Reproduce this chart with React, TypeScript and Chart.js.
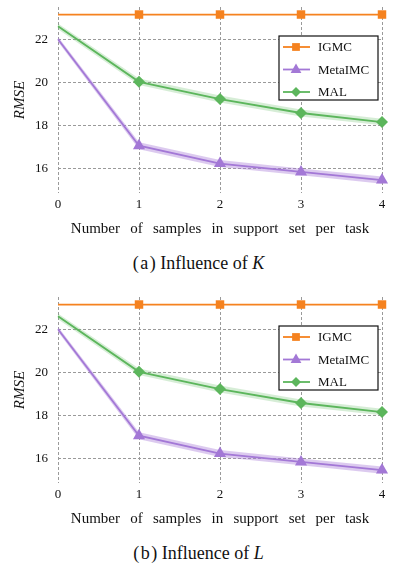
import React, { useEffect, useRef } from 'react';
import { Chart, registerables } from 'chart.js';

Chart.register(...registerables);

const xValues = [0, 1, 2, 3, 4];
const xTicks = [0, 1, 2, 3, 4];
const yTicks = [16, 18, 20, 22];
const igmc = [23.15, 23.15, 23.15, 23.15, 23.15];
const metaImc = [22.0, 17.05, 16.22, 15.83, 15.45];
const metaImcSpread = [0.12, 0.16, 0.16, 0.16, 0.17];
const mal = [22.6, 20.02, 19.22, 18.57, 18.15];
const malSpread = [0.13, 0.15, 0.16, 0.16, 0.15];
const seriesNames = ['IGMC', 'MetaIMC', 'MAL'];
const captionTags = ['(a)', '(b)'];
const captionVars = ['K', 'L'];
const xTitle = 'Number of samples in support set per task';
const yTitle = 'RMSE';

const ORANGE = '#F5821F';
const PURPLE = '#A378D6';
const GREEN = '#5CB65C';
const PURPLE_BAND = 'rgba(167,123,214,0.4)';
const GREEN_BAND = 'rgba(92,182,92,0.25)';
const FONT = '"Liberation Serif", serif';

Chart.defaults.font.family = FONT;

const markerRadius = (r: number) => xValues.map((x) => (x === 0 ? 0 : r));
const pts = (ys: number[]) => xValues.map((x, i) => ({ x, y: ys[i] }));

function drawMarker(ctx: CanvasRenderingContext2D, kind: string, x: number, y: number, r: number, color: string) {
  ctx.fillStyle = color;
  ctx.beginPath();
  if (kind === 'rect') {
    const s = r * Math.SQRT1_2;
    ctx.rect(x - s, y - s, 2 * s, 2 * s);
  } else if (kind === 'triangle') {
    ctx.moveTo(x, y - r);
    ctx.lineTo(x + r * 0.9, y + r * 0.6);
    ctx.lineTo(x - r * 0.9, y + r * 0.6);
    ctx.closePath();
  } else {
    ctx.moveTo(x, y - r);
    ctx.lineTo(x + r, y);
    ctx.lineTo(x, y + r);
    ctx.lineTo(x - r, y);
    ctx.closePath();
  }
  ctx.fill();
}

const legendEntries = [
  { name: seriesNames[0], color: ORANGE, kind: 'rect', r: 5.5 },
  { name: seriesNames[1], color: PURPLE, kind: 'triangle', r: 6 },
  { name: seriesNames[2], color: GREEN, kind: 'diamond', r: 5 },
];

const boxLegend = {
  id: 'boxLegend',
  beforeDraw(chart: any) {
    (chart.ctx as any).wordSpacing = '6.5px';
  },
  afterDraw(chart: any) {
    const ctx: CanvasRenderingContext2D = chart.ctx;
    const ca = chart.chartArea;
    const w = 99;
    const h = 64;
    const x0 = ca.right - 4 - w;
    const y0 = ca.top + 29;
    ctx.save();
    ctx.fillStyle = '#ffffff';
    ctx.fillRect(x0, y0, w, h);
    ctx.strokeStyle = '#111';
    ctx.lineWidth = 1.2;
    ctx.strokeRect(x0, y0, w, h);
    legendEntries.forEach((e, i) => {
      const y = y0 + 11 + i * 22.5;
      ctx.strokeStyle = e.color;
      ctx.lineWidth = 1.8;
      ctx.beginPath();
      ctx.moveTo(x0 + 4, y);
      ctx.lineTo(x0 + 31, y);
      ctx.stroke();
      drawMarker(ctx, e.kind, x0 + 17, y, e.r, e.color);
      ctx.fillStyle = '#111';
      ctx.font = `13px ${FONT}`;
      ctx.textBaseline = 'middle';
      ctx.textAlign = 'left';
      ctx.fillText(e.name, x0 + 39, y + 1);
    });
    ctx.restore();
  },
};

function RmseChart() {
  const ref = useRef<HTMLCanvasElement | null>(null);
  useEffect(() => {
    if (!ref.current) return;
    const metaLo = metaImc.map((v, i) => v - metaImcSpread[i]);
    const metaHi = metaImc.map((v, i) => v + metaImcSpread[i]);
    const malLo = mal.map((v, i) => v - malSpread[i]);
    const malHi = mal.map((v, i) => v + malSpread[i]);
    const band = (data: number[], color: string, fill: any) => ({
      data: pts(data),
      borderWidth: 0,
      pointRadius: 0,
      backgroundColor: color,
      borderColor: 'transparent',
      fill,
      order: 10,
    });
    const chart = new Chart(ref.current, {
      type: 'line',
      data: {
        datasets: [
          band(metaLo, PURPLE_BAND, false),
          band(metaHi, PURPLE_BAND, '-1'),
          band(malLo, GREEN_BAND, false),
          band(malHi, GREEN_BAND, '-1'),
          {
            label: seriesNames[0],
            data: pts(igmc),
            borderColor: ORANGE,
            backgroundColor: ORANGE,
            borderWidth: 1.8,
            pointStyle: 'rect',
            pointRadius: markerRadius(6),
            pointBorderWidth: 0,
            clip: false,
            order: 1,
          } as any,
          {
            label: seriesNames[1],
            data: pts(metaImc),
            borderColor: PURPLE,
            backgroundColor: PURPLE,
            borderWidth: 1.8,
            pointStyle: 'triangle',
            pointRadius: markerRadius(7),
            pointBorderWidth: 0,
            clip: false,
            order: 2,
          } as any,
          {
            label: seriesNames[2],
            data: pts(mal),
            borderColor: GREEN,
            backgroundColor: GREEN,
            borderWidth: 1.8,
            pointStyle: 'rectRot',
            pointRadius: markerRadius(6),
            pointBorderWidth: 0,
            clip: false,
            order: 1,
          } as any,
        ],
      },
      options: {
        animation: false,
        responsive: false,
        maintainAspectRatio: false,
        events: [],
        layout: { padding: { top: 4, right: 15, left: 0, bottom: 0 } },
        plugins: { legend: { display: false }, tooltip: { enabled: false } },
        scales: {
          x: {
            type: 'linear',
            min: 0,
            max: 4,
            afterBuildTicks: (s: any) => {
              s.ticks = xTicks.map((v) => ({ value: v }));
            },
            afterFit: (s: any) => {
              s.height = 47;
              s.paddingLeft = 0;
              s.paddingRight = 0;
            },
            grid: { color: '#9a9a9a', lineWidth: 1, drawTicks: false },
            border: { display: false, dash: [3, 2] },
            ticks: { padding: 4, color: '#111', font: { size: 13, family: FONT }, callback: (v: any) => String(v) },
            title: { display: true, text: xTitle, color: '#111', font: { size: 15, family: FONT }, padding: { top: 6, bottom: 2 } },
          },
          y: {
            type: 'linear',
            min: 14.85,
            max: 23.5,
            afterBuildTicks: (s: any) => {
              s.ticks = yTicks.map((v) => ({ value: v }));
            },
            afterFit: (s: any) => {
              s.width = 58;
              s.paddingTop = 0;
              s.paddingBottom = 0;
            },
            grid: { color: '#9a9a9a', lineWidth: 1, drawTicks: false },
            border: { display: false, dash: [3, 2] },
            ticks: { padding: 10, color: '#111', font: { size: 13, family: FONT }, callback: (v: any) => String(v) },
            title: { display: true, text: yTitle, color: '#111', font: { size: 15, family: FONT, style: 'italic' }, padding: { top: 11, bottom: 0 } },
          },
        },
      } as any,
      plugins: [boxLegend],
    });
    return () => chart.destroy();
  }, []);
  return <canvas ref={ref} width={397} height={240} style={{ display: 'block', width: 397, height: 240 }} />;
}

export default function App() {
  return (
    <div style={{ position: 'absolute', left: 0, top: 0, width: 397, height: 565, background: '#fff' }}>
      {captionTags.map((tag, i) => (
        <div key={tag} style={{ position: 'absolute', left: 0, top: i * 290, width: 397, height: 290 }}>
          <RmseChart />
          <div
            style={{
              position: 'absolute',
              left: 0,
              top: 249,
              width: 397,
              height: 28,
              lineHeight: '28px',
              textAlign: 'center',
              fontFamily: FONT,
              fontSize: 18,
              color: '#111',
            }}
          >
            <span style={{ letterSpacing: '1.5px', marginRight: 3 }}>{tag}</span>Influence of <i>{captionVars[i]}</i>
          </div>
        </div>
      ))}
    </div>
  );
}
